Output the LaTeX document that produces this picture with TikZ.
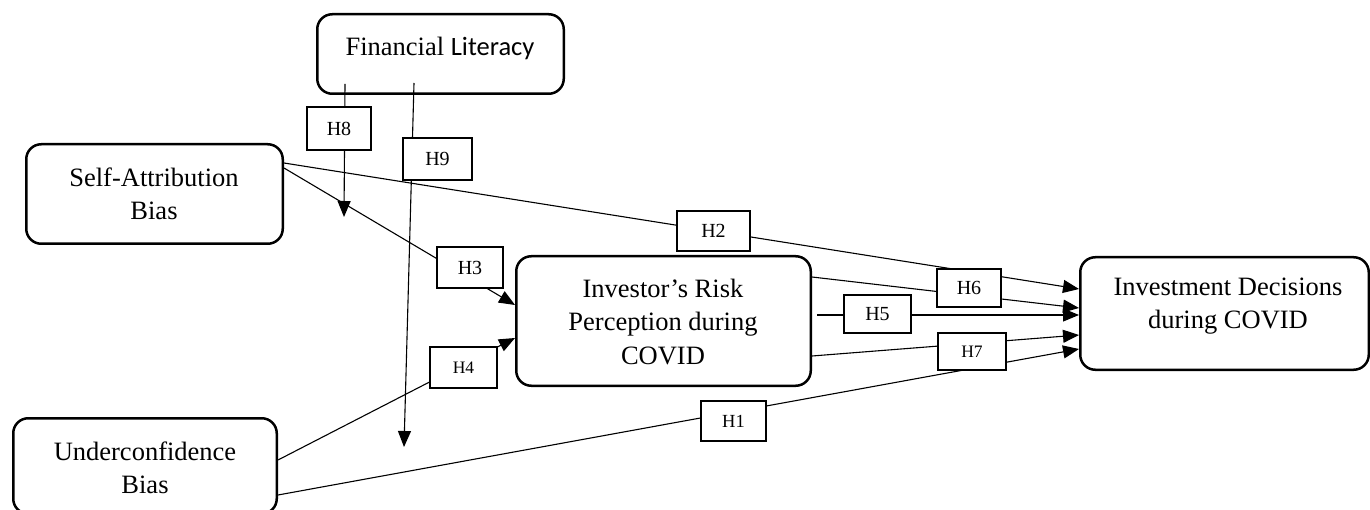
\documentclass[tikz,border=0pt]{standalone}
\usepackage{fontspec}
\setmainfont{Liberation Serif}
\newfontfamily\calibfont{Carlito}
\usetikzlibrary{arrows.meta,calc}
\begin{document}
\begin{tikzpicture}[x=1pt,y=-1pt,
  bigbox/.style={draw,line width=2.5pt,rounded corners=15pt,inner sep=0pt},
  bigtext/.style={font=\fontsize{26.5}{33.5}\selectfont,align=center,inner sep=0pt},
  hbox/.style={draw,line width=2.2pt,fill=white,inner sep=0pt,font=\fontsize{20}{23}\selectfont},
  hsmall/.style={hbox,font=\fontsize{17.5}{20}\selectfont},
  conn/.style={line width=1.1pt},
  arr/.style={conn,-{Triangle[length=16pt,width=13pt]}}]
\useasboundingbox (0,0) rectangle (1370,510);

% main boxes
\node[bigbox,minimum width=246.5pt,minimum height=79.5pt] (fl) at (440.5,54) {};
\node[bigbox,minimum width=256.5pt,minimum height=99.5pt] (sa) at (154.5,194) {};
\node[bigbox,minimum width=263.5pt,minimum height=95.5pt] (ub) at (145,466) {};
\node[bigbox,minimum width=294.5pt,minimum height=129.5pt] (ir) at (663.5,321) {};
\node[bigbox,minimum width=288.5pt,minimum height=112.5pt] (id) at (1224.5,313.5) {};

\node[bigtext] (fltext) at (440,48) {Financial {\calibfont Literacy}};
\node[bigtext] (satext) at (154,194) {Self-Attribution\\Bias};
\node[bigtext] (ubtext) at (145,468) {Underconfidence\\Bias};
\node[bigtext] (irtext) at (663,322) {Investor’s Risk\\Perception during\\COVID};
\node[bigtext] (idtext) at (1228,306) {Investment Decisions\\during COVID};

% free ends of moderation arrows
\coordinate (h8end) at (344,217);
\coordinate (h9end) at (404,447);

% connectors
\draw[arr] ([yshift=31pt]sa.east) -- ([yshift=24.5pt]id.west);
\draw[arr] ([yshift=26pt]sa.east) -- ([yshift=16pt]ir.west);
\draw[arr] ([yshift=6pt]ub.east) -- ([yshift=-17pt]ir.west);
\draw[arr] ([yshift=-29pt]ub.east) -- ([yshift=-35.5pt]id.west);
\draw[arr] ([yshift=44pt]ir.east) -- ([yshift=5.5pt]id.west);
\draw[arr] ([xshift=5pt,yshift=6pt]ir.east) -- ([yshift=-1.5pt]id.west);
\draw[arr] ([yshift=-35pt]ir.east) -- ([yshift=-21.5pt]id.west);
\draw[arr] ([xshift=-95.5pt,yshift=11pt]fl.south) -- (h8end);
\draw[arr] ([xshift=-26.5pt,yshift=12pt]fl.south) -- (h9end);

% hypothesis labels
\node[hbox,minimum width=64pt,minimum height=43pt] (h8) at (339,128.5) {H8};
\node[hbox,minimum width=69pt,minimum height=42pt] (h9) at (437.5,159) {H9};
\node[hbox,minimum width=73pt,minimum height=40pt] (h2) at (713.5,231) {H2};
\node[hbox,minimum width=66pt,minimum height=41pt] (h3) at (470,267.5) {H3};
\node[hsmall,minimum width=67pt,minimum height=41pt] (h4) at (463.5,367.5) {H4};
\node[hbox,minimum width=67pt,minimum height=38pt] (h5) at (877.5,314) {H5};
\node[hbox,minimum width=64pt,minimum height=38pt] (h6) at (969,288) {H6};
\node[hsmall,minimum width=68pt,minimum height=37pt] (h7) at (972,351.5) {H7};
\node[hbox,font=\fontsize{18.5}{21}\selectfont,minimum width=65pt,minimum height=40pt] (h1) at (733.5,421) {H1};
\end{tikzpicture}
\end{document}
